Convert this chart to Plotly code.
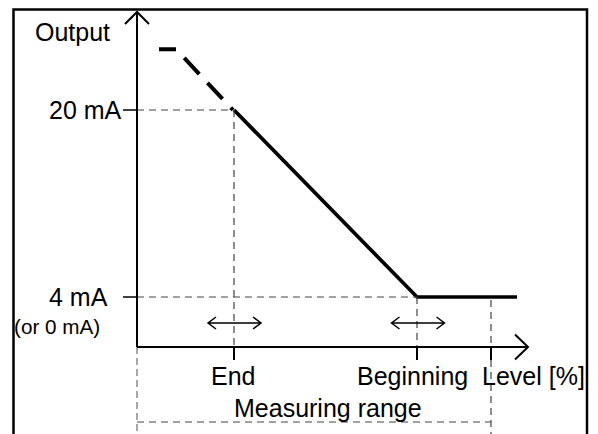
import plotly.graph_objects as go

W, H = 598, 434

# ---- data (schematic): level position (arbitrary units measured from the output axis) and output current [mA]
level_solid = [97, 280, 380]          # End -> Beginning -> beyond
output_solid = [20, 4, 4]
level_sat = [22, 39, 96]              # saturated output above the End point (dashed)
output_sat = [25.2, 25.2, 20.0]

out_tick_vals = [20, 4]
out_tick_text = ["20 mA", "4 mA"]
END_X, BEGIN_X, LIMIT_X = 97, 280, 354
level_tick_vals = [END_X, BEGIN_X, LIMIT_X]
level_label_text = ["End", "Beginning", "Level [%]"]
level_label_pos = [95.5, 275, 396.5]

# ---- layout geometry (data units)
X_RANGE = [-137, 461]
Y_RANGE = [-7.722, 29.412]
K = H / (Y_RANGE[1] - Y_RANGE[0])     # pixels per mA


def dy(px):
    return px / K


AXIS_Y = 4 - dy(50)
Y_TOP = 20 + dy(98)
X_TIP = 391
ARROW_ROW = 4 - dy(26)
LABEL_ROW = 4 - dy(79)
RANGE_LABEL_ROW = 4 - dy(111)
RANGE_LINE_Y = 4 - dy(125)
BOTTOM = Y_RANGE[0] - 1

FONT = "Liberation Sans, Arial, sans-serif"
GUIDE = dict(color="#444444", width=1.2, dash="7px,5px")

fig = go.Figure()

fig.add_trace(go.Scatter(x=level_sat, y=output_sat, mode="lines",
                         line=dict(color="black", width=4,
                                   dash="17px,12px,22px,12px,22px,12px"),
                         hoverinfo="skip", showlegend=False))
fig.add_trace(go.Scatter(x=level_solid, y=output_solid, mode="lines",
                         line=dict(color="black", width=3.7),
                         hoverinfo="skip", showlegend=False))

shapes = []
# frame
shapes.append(dict(type="rect", xref="paper", yref="paper",
                   x0=13.5 / W, x1=587 / W, y0=-0.05, y1=1 - 9.5 / H,
                   line=dict(color="black", width=2.5)))
# guides
shapes += [
    dict(type="line", x0=0, x1=END_X, y0=20, y1=20, line=GUIDE),
    dict(type="line", x0=END_X, x1=END_X, y0=20, y1=AXIS_Y, line=GUIDE),
    dict(type="line", x0=0, x1=BEGIN_X, y0=4, y1=4, line=GUIDE),
    dict(type="line", x0=BEGIN_X, x1=BEGIN_X, y0=4, y1=AXIS_Y, line=GUIDE),
    dict(type="line", x0=LIMIT_X, x1=LIMIT_X, y0=4 - dy(3), y1=BOTTOM, line=GUIDE),
    dict(type="line", x0=0, x1=0, y0=AXIS_Y, y1=BOTTOM,
         line=dict(color="#8a8a8a", width=1.5, dash="7px,4px")),
    dict(type="line", x0=0, x1=LIMIT_X, y0=RANGE_LINE_Y, y1=RANGE_LINE_Y, line=GUIDE),
]
# axes
AX = dict(color="black", width=2)
shapes += [
    dict(type="line", x0=0, x1=0, y0=AXIS_Y, y1=Y_TOP, line=AX),
    dict(type="path", path=f"M -12,{Y_TOP - dy(12)} L 0,{Y_TOP} L 12,{Y_TOP - dy(12)}", line=AX),
    dict(type="line", x0=0, x1=X_TIP, y0=AXIS_Y, y1=AXIS_Y, line=AX),
    dict(type="path", path=f"M {X_TIP - 13},{AXIS_Y + dy(12.5)} L {X_TIP},{AXIS_Y} L {X_TIP - 13},{AXIS_Y - dy(12.5)}", line=AX),
]
for v in out_tick_vals:
    shapes.append(dict(type="line", x0=-14, x1=0, y0=v, y1=v, line=dict(color="black", width=1.5)))
for v in level_tick_vals:
    shapes.append(dict(type="line", x0=v, x1=v, y0=AXIS_Y, y1=AXIS_Y - dy(13), line=AX))
# double arrows (adjustment ranges)
for c in [END_X + 0.5, BEGIN_X + 1]:
    a, b, yv = c - 26.5, c + 26.5, ARROW_ROW
    shapes.append(dict(type="path",
                       path=(f"M {a},{yv} L {b},{yv} "
                             f"M {a + 8},{yv + dy(6)} L {a},{yv} L {a + 8},{yv - dy(6)} "
                             f"M {b - 8},{yv + dy(6)} L {b},{yv} L {b - 8},{yv - dy(6)}"),
                       line=dict(color="black", width=1.5)))

ann = []


def txt(x, y, t, xa="center", size=25):
    ann.append(dict(x=x, y=y, text=t, showarrow=False, xanchor=xa, yanchor="middle",
                    font=dict(family=FONT, size=size, color="black")))


txt(-65, 20 + dy(78.5), "Output")
txt(-13, out_tick_vals[0], out_tick_text[0], "right")
txt(-27, out_tick_vals[1], out_tick_text[1], "right")
txt(-125, 4 - dy(29), "(or 0 mA)", "left", 20.7)
for p, t in zip(level_label_pos, level_label_text):
    txt(p, LABEL_ROW, t)
txt(190.5, RANGE_LABEL_ROW, "Measuring range")

fig.update_layout(
    width=W, height=H, margin=dict(l=0, r=0, t=0, b=0),
    paper_bgcolor="white", plot_bgcolor="white",
    xaxis=dict(range=X_RANGE, visible=False, fixedrange=True),
    yaxis=dict(range=Y_RANGE, visible=False, fixedrange=True),
    shapes=shapes, annotations=ann, showlegend=False,
)
fig.write_html("out.html", config={"displayModeBar": False},
               post_script="document.body.style.margin='0';document.body.style.overflow='hidden';")
